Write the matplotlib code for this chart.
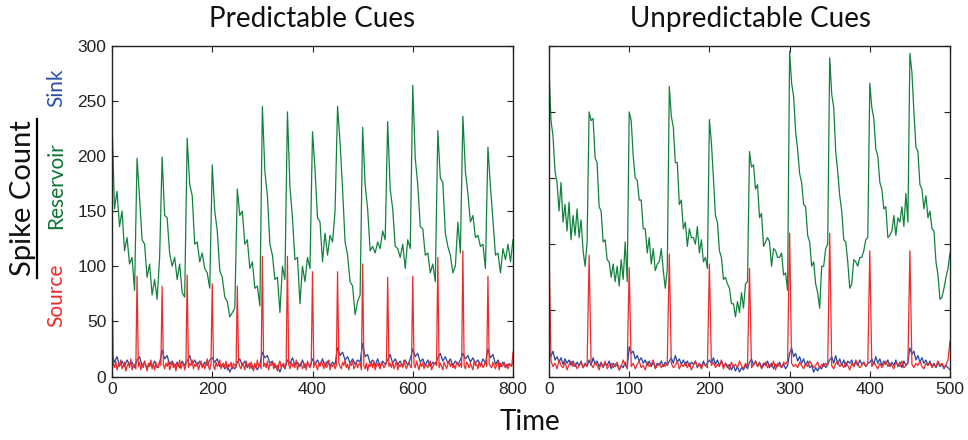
"""
plot.py — 两种线索条件下的 Spike Count 曲线（Source / Reservoir / Sink）
左：Predictable Cues（0~800），右：Unpredictable Cues（0~500）
"""

import numpy as np
import matplotlib
matplotlib.use("Agg")
import matplotlib.pyplot as plt
from matplotlib.lines import Line2D


# ======================== 数据 ========================
# 左图：Reservoir / Sink 每 5 个时间单位一个点，Source 每 2.5 个单位一个点
# 每行对应一个 50 单位的周期（周期开始处为刺激峰值）

left_reservoir = [
    232, 152, 168, 136, 150, 114, 126, 102, 108, 78,
    198, 162, 124, 120, 90, 102, 74, 88, 70, 108,
    199, 146, 144, 112, 100, 108, 88, 102, 76, 72,
    216, 174, 164, 120, 122, 104, 112, 98, 94, 80,
    192, 150, 132, 96, 90, 72, 68, 54, 58, 62,
    170, 146, 150, 120, 124, 98, 104, 80, 82, 64,
    245, 186, 164, 120, 110, 88, 90, 58, 100, 88,
    240, 172, 144, 106, 108, 66, 100, 86, 108, 98,
    222, 188, 144, 140, 104, 130, 110, 128, 122, 150,
    245, 212, 170, 122, 110, 86, 82, 56, 68, 74,
    226, 174, 152, 114, 118, 112, 122, 116, 132, 124,
    231, 170, 152, 118, 116, 108, 120, 98, 124, 116,
    264, 198, 174, 136, 134, 110, 112, 94, 102, 86,
    223, 180, 176, 130, 118, 110, 94, 100, 140, 112,
    236, 186, 166, 140, 146, 126, 128, 118, 120, 98,
    208, 172, 142, 110, 112, 94, 116, 106, 120, 104,
    124,
]

left_sink = [
    20, 13, 18, 10, 14, 9, 15, 11, 13, 8,
    15, 18, 10, 13, 7, 12, 9, 14, 8, 12,
    24, 16, 19, 11, 14, 9, 13, 8, 14, 10,
    14, 19, 11, 15, 10, 14, 9, 13, 10, 15,
    17, 13, 16, 9, 11, 7, 10, 4, 9, 7,
    13, 16, 10, 14, 8, 12, 7, 10, 6, 11,
    22, 17, 19, 12, 14, 8, 10, 4, 11, 7,
    15, 12, 17, 10, 13, 9, 15, 8, 12, 9,
    16, 11, 15, 10, 16, 9, 14, 10, 13, 11,
    26, 19, 22, 15, 18, 12, 16, 11, 15, 13,
    30, 18, 20, 12, 15, 10, 16, 9, 14, 11,
    15, 20, 12, 16, 11, 14, 9, 15, 10, 16,
    25, 18, 21, 13, 16, 10, 15, 9, 13, 11,
    17, 21, 14, 18, 12, 16, 10, 14, 11, 15,
    21, 16, 19, 13, 17, 12, 15, 10, 16, 12,
    25, 17, 20, 11, 15, 9, 13, 8, 11, 10,
    12,
]

left_source = [
    100, 12, 8, 14, 6, 11, 9, 15, 7, 10, 13, 5, 9, 12, 8, 16, 6, 10, 11, 7,
    91, 9, 13, 6, 11, 8, 14, 10, 5, 12, 9, 15, 7, 11, 6, 13, 9, 8, 14, 10,
    82, 11, 7, 12, 9, 14, 6, 10, 13, 8, 11, 5, 12, 9, 15, 7, 10, 12, 6, 11,
    92, 8, 12, 10, 15, 7, 11, 9, 13, 6, 10, 14, 8, 12, 7, 11, 16, 9, 6, 12,
    84, 10, 6, 13, 9, 11, 15, 7, 10, 12, 8, 14, 6, 11, 9, 13, 7, 12, 10, 8,
    82, 13, 9, 7, 12, 10, 6, 14, 9, 11, 7, 13, 10, 5, 12, 8, 15, 9, 11, 7,
    109, 9, 12, 8, 14, 6, 11, 10, 13, 7, 12, 9, 5, 11, 14, 8, 10, 12, 7, 13,
    109, 11, 7, 13, 9, 12, 8, 15, 6, 10, 11, 13, 7, 9, 12, 6, 14, 10, 8, 11,
    95, 8, 13, 10, 6, 12, 9, 14, 11, 7, 13, 8, 10, 15, 6, 11, 9, 12, 7, 10,
    95, 12, 9, 7, 13, 10, 15, 8, 11, 6, 12, 10, 14, 7, 9, 13, 8, 11, 12, 6,
    102, 10, 7, 12, 5, 11, 9, 13, 8, 14, 6, 10, 12, 9, 7, 13, 11, 8, 10, 12,
    90, 9, 12, 8, 13, 7, 10, 14, 6, 11, 9, 12, 8, 15, 10, 7, 11, 13, 9, 8,
    91, 11, 8, 14, 10, 6, 12, 9, 13, 7, 11, 10, 8, 12, 14, 6, 9, 11, 13, 10,
    108, 8, 12, 9, 6, 13, 10, 7, 11, 14, 9, 12, 8, 10, 7, 13, 11, 9, 12, 8,
    114, 10, 7, 13, 11, 8, 12, 9, 6, 14, 10, 11, 7, 13, 9, 12, 8, 10, 14, 9,
    91, 12, 9, 8, 13, 10, 7, 11, 14, 6, 12, 9, 10, 13, 8, 11, 7, 12, 10, 9,
    22,
]

# 右图：三条曲线都是每 2.5 个时间单位一个点
right_reservoir = [
    278, 232, 218, 186, 176, 150, 176, 140, 156, 132, 158, 124, 146, 128, 152, 126, 142, 114, 100, 122,
    240, 232, 234, 198, 194, 154, 150, 122, 124, 106, 104, 90, 102, 86, 100, 82, 106, 88, 122, 86,
    240, 232, 200, 180, 178, 160, 160, 134, 134, 112, 126, 102, 116, 96, 102, 104, 116, 96, 80, 98,
    263, 236, 226, 194, 194, 156, 160, 134, 140, 118, 134, 126, 126, 120, 136, 112, 124, 104, 108, 98,
    233, 212, 180, 146, 140, 114, 108, 88, 90, 84, 80, 66, 66, 54, 68, 58, 76, 62, 84, 86,
    204, 190, 192, 170, 174, 144, 148, 118, 122, 126, 122, 100, 116, 114, 108, 108, 112, 92, 94, 78,
    295, 266, 254, 222, 206, 184, 176, 156, 154, 128, 122, 100, 104, 84, 76, 62, 100, 100, 116, 120,
    289, 256, 244, 204, 186, 164, 150, 124, 122, 104, 80, 84, 106, 104, 100, 108, 108, 114, 124, 126,
    266, 244, 234, 206, 200, 176, 170, 152, 154, 126, 128, 132, 146, 128, 144, 140, 154, 136, 166, 140,
    293, 276, 240, 208, 204, 174, 170, 152, 164, 144, 150, 134, 132, 104, 92, 70, 72, 80, 90, 98,
    112,
]

right_sink = [
    24, 18, 23, 15, 18, 13, 17, 11, 16, 12, 15, 10, 14, 9, 13, 10, 14, 8, 12, 9,
    15, 10, 17, 11, 14, 9, 13, 8, 12, 10, 14, 7, 12, 9, 11, 6, 10, 8, 13, 7,
    27, 21, 23, 16, 19, 14, 17, 12, 15, 10, 14, 9, 13, 8, 12, 10, 14, 9, 13, 10,
    14, 17, 12, 19, 13, 16, 11, 15, 10, 14, 9, 13, 11, 14, 8, 12, 9, 14, 10, 12,
    15, 12, 17, 11, 15, 10, 14, 9, 12, 8, 11, 6, 10, 5, 9, 4, 8, 6, 10, 7,
    13, 16, 10, 14, 9, 13, 8, 12, 10, 14, 8, 12, 7, 11, 9, 13, 8, 11, 7, 10,
    21, 26, 18, 21, 14, 18, 12, 16, 10, 14, 8, 10, 4, 8, 5, 9, 7, 12, 8, 11,
    15, 18, 12, 19, 11, 16, 10, 15, 9, 14, 12, 15, 9, 13, 10, 15, 11, 13, 9, 12,
    13, 16, 11, 18, 12, 16, 10, 14, 11, 15, 9, 13, 10, 15, 9, 13, 8, 14, 10, 13,
    26, 20, 23, 15, 19, 13, 17, 12, 15, 10, 14, 9, 12, 8, 13, 9, 11, 7, 10, 8,
    6,
]

right_source = [
    122, 14, 9, 12, 7, 15, 10, 8, 13, 6, 11, 14, 9, 12, 7, 10, 13, 8, 11, 9,
    110, 11, 8, 13, 10, 6, 12, 9, 14, 7, 10, 12, 8, 11, 13, 6, 9, 15, 10, 8,
    99, 9, 12, 7, 11, 14, 8, 10, 6, 13, 9, 11, 15, 7, 10, 12, 8, 11, 9, 13,
    111, 12, 8, 10, 14, 7, 11, 9, 13, 8, 12, 6, 10, 14, 9, 11, 7, 12, 10, 8,
    102, 10, 13, 8, 11, 9, 15, 7, 12, 10, 6, 13, 9, 11, 8, 14, 10, 7, 12, 9,
    98, 8, 11, 14, 9, 12, 7, 10, 13, 8, 11, 9, 14, 6, 12, 10, 8, 13, 11, 14,
    130, 12, 9, 11, 8, 13, 10, 7, 12, 9, 14, 11, 8, 10, 13, 7, 11, 9, 12, 10,
    130, 10, 7, 12, 14, 9, 11, 8, 13, 10, 6, 12, 9, 15, 11, 8, 10, 13, 9, 12,
    114, 9, 13, 10, 7, 12, 8, 11, 14, 9, 12, 10, 7, 13, 11, 9, 14, 8, 10, 12,
    114, 11, 8, 12, 10, 14, 9, 7, 12, 10, 13, 8, 11, 9, 14, 10, 12, 8, 11, 15,
    32,
]

# 时间轴（采样间隔）
t_left = np.arange(0, 800.1, 5)
t_left_src = np.arange(0, 800.1, 2.5)
t_right = np.arange(0, 500.1, 2.5)

left_xticks = [0, 200, 400, 600, 800]
right_xticks = [0, 100, 200, 300, 400, 500]
left_yticks = [0, 50, 100, 150, 200, 250, 300]
right_yticks = [0, 60, 120, 180, 240, 300]

titles = ["Predictable Cues", "Unpredictable Cues"]

# ======================== 样式 ========================
C_SOURCE = "#ee2b2b"
C_RESERVOIR = "#13823f"
C_SINK = "#2446a0"
TITLE_FONT = ["Lato", "DejaVu Sans"]
TICK_FONT = ["Liberation Sans", "DejaVu Sans"]


def style_axis(ax, xticks, yticks, xmax, show_ylabels):
    ax.set_xlim(0, xmax)
    ax.set_ylim(0, 300)
    ax.set_xticks(xticks)
    ax.set_yticks(yticks)
    if not show_ylabels:
        ax.set_yticklabels([])
    ax.tick_params(direction="in", length=4, width=0.8, top=True, right=True,
                   labelsize=12.5, colors="#222222", pad=4)
    for lab in ax.get_xticklabels() + ax.get_yticklabels():
        lab.set_family(TICK_FONT)
    for sp in ax.spines.values():
        sp.set_linewidth(1.0)
        sp.set_color("#222222")


def plot_panels():
    fig = plt.figure(figsize=(9.68, 4.4), dpi=100)

    # --- 两个坐标轴（位置按像素换算） ---
    ax1 = fig.add_axes([112 / 968, 1 - 376.5 / 440, 401 / 968, 330.8 / 440])
    ax2 = fig.add_axes([549 / 968, 1 - 376.5 / 440, 401 / 968, 330.8 / 440])

    # --- 左图 ---
    ax1.plot(t_left, left_reservoir, color=C_RESERVOIR, lw=0.9)
    ax1.plot(t_left, left_sink, color=C_SINK, lw=0.9)
    ax1.plot(t_left_src, left_source, color=C_SOURCE, lw=0.9)
    style_axis(ax1, left_xticks, left_yticks, 800, True)

    # --- 右图 ---
    ax2.plot(t_right, right_reservoir, color=C_RESERVOIR, lw=0.9)
    ax2.plot(t_right, right_sink, color=C_SINK, lw=0.9)
    ax2.plot(t_right, right_source, color=C_SOURCE, lw=0.9)
    style_axis(ax2, right_xticks, right_yticks, 500, False)

    # --- 标题 ---
    fig.text(312 / 968, 1 - 19 / 440, titles[0], ha="center", va="center",
             fontsize=20, family=TITLE_FONT, color="#111111")
    fig.text(750 / 968, 1 - 19 / 440, titles[1], ha="center", va="center",
             fontsize=20, family=TITLE_FONT, color="#111111")
    fig.text(530 / 968, 1 - 422 / 440, "Time", ha="center", va="center",
             fontsize=20, family=TITLE_FONT, color="#111111")

    # --- Y 轴标签：Spike Count（带下划线） + 三个彩色分量 ---
    fig.text(23 / 968, 1 - 198 / 440, "Spike Count", rotation=90, ha="center",
             va="center", fontsize=21, family=TITLE_FONT, color="#111111")
    fig.add_artist(Line2D([37 / 968, 37 / 968], [1 - 119 / 440, 1 - 278 / 440],
                          color="black", lw=1.6))
    fig.text(56 / 968, 1 - 295 / 440, "Source", rotation=90, ha="center",
             va="center", fontsize=15, family=TITLE_FONT, color=C_SOURCE)
    fig.text(56 / 968, 1 - 186 / 440, "Reservoir", rotation=90, ha="center",
             va="center", fontsize=15, family=TITLE_FONT, color="#0b7436")
    fig.text(56 / 968, 1 - 88 / 440, "Sink", rotation=90, ha="center",
             va="center", fontsize=15, family=TITLE_FONT, color="#2a4fa8")

    fig.savefig("out.png", dpi=100)


def main():
    assert len(left_reservoir) == len(t_left)
    assert len(left_sink) == len(t_left)
    assert len(left_source) == len(t_left_src)
    assert len(right_reservoir) == len(t_right)
    assert len(right_sink) == len(t_right)
    assert len(right_source) == len(t_right)
    plot_panels()


if __name__ == "__main__":
    main()
